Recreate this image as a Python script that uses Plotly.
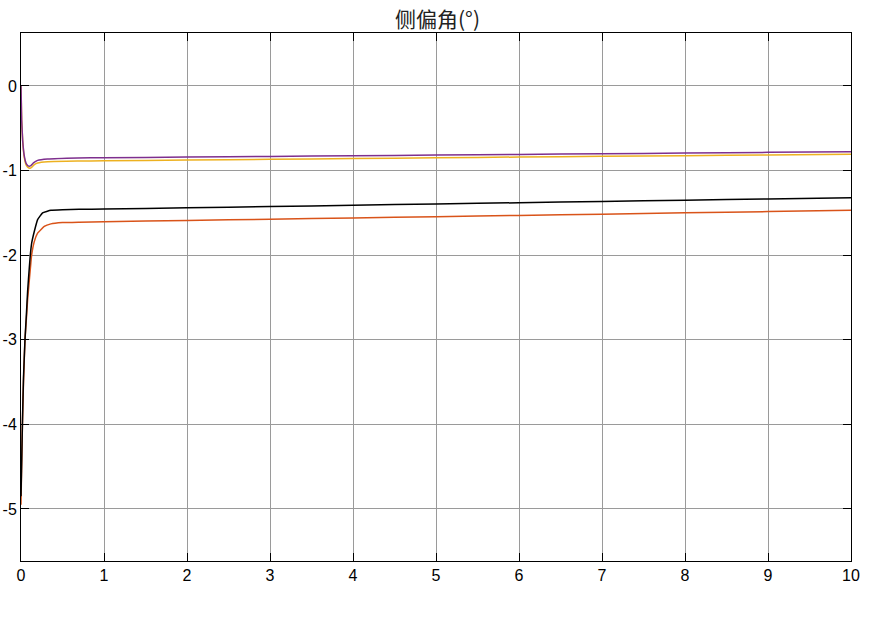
import plotly.graph_objects as go

# time samples (s) and series values (deg)
t_purple = [0, 0.004, 0.008, 0.02, 0.04, 0.06, 0.08, 0.1, 0.12, 0.15, 0.2, 0.32, 0.68, 1, 2, 3, 4, 5, 6, 7, 8, 9, 10]
purple = [0, -0.2, -0.4, -0.64, -0.83, -0.91, -0.94, -0.95, -0.94, -0.91, -0.88, -0.863, -0.851, -0.848,
          -0.841, -0.833, -0.825, -0.817, -0.809, -0.801, -0.793, -0.785, -0.777]

t_yellow = [0, 0.004, 0.008, 0.02, 0.04, 0.06, 0.08, 0.11, 0.13, 0.16, 0.2, 0.32, 0.68, 1, 2, 3, 4, 5, 6, 7, 8, 9, 10]
yellow = [0, -0.2, -0.4, -0.65, -0.85, -0.93, -0.96, -0.974, -0.96, -0.93, -0.91, -0.895, -0.887, -0.885,
          -0.876, -0.867, -0.858, -0.849, -0.840, -0.832, -0.824, -0.816, -0.808]

t_black = [0, 0.004, 0.008, 0.017, 0.03, 0.048, 0.065, 0.08, 0.1, 0.112, 0.13, 0.16, 0.2, 0.26, 0.36, 0.5, 0.7, 1,
           2, 3, 4, 5, 6, 7, 8, 9, 10]
black = [-4.85, -4.65, -4.45, -4.0, -3.45, -3.0, -2.7, -2.42, -2.15, -2.0, -1.85, -1.72, -1.58, -1.50, -1.47,
         -1.462, -1.458, -1.455, -1.44, -1.425, -1.41, -1.395, -1.38, -1.365, -1.35, -1.335, -1.32]

t_orange = [0, 0.004, 0.008, 0.017, 0.03, 0.048, 0.065, 0.08, 0.1, 0.128, 0.16, 0.2, 0.28, 0.36, 0.5, 0.7, 1,
            2, 3, 4, 5, 6, 7, 8, 9, 10]
orange = [-4.95, -4.7, -4.5, -4.0, -3.5, -3.0, -2.75, -2.52, -2.3, -2.0, -1.84, -1.74, -1.66, -1.63, -1.615,
          -1.61, -1.605, -1.59, -1.575, -1.56, -1.545, -1.53, -1.515, -1.5, -1.485, -1.47]

x_ticks = list(range(0, 11))
y_ticks = [0, -1, -2, -3, -4, -5]
y_tick_text = ["0", "-1", "-2", "-3", "-4", "-5"]

fig = go.Figure()
for tx, ys, col in [(t_orange, orange, "#D95319"), (t_black, black, "#000000"),
                    (t_yellow, yellow, "#EDB120"), (t_purple, purple, "#7E2F8E")]:
    fig.add_trace(go.Scatter(x=tx, y=ys, mode="lines", line=dict(color=col, width=1.5, shape="spline", smoothing=0.3),
                             showlegend=False, hoverinfo="skip"))

axis_common = dict(showgrid=True, gridcolor="#9a9a9a", gridwidth=1, showline=True, linecolor="black", linewidth=1,
                   mirror="ticks", ticks="inside", ticklen=8, tickcolor="black", tickwidth=1, zeroline=False,
                   automargin=False,
                   tickfont=dict(family="Liberation Sans, Arial", size=16, color="black"))
fig.update_xaxes(range=[0, 10], tickvals=x_ticks, **axis_common)
fig.update_yaxes(range=[-5.615, 0.626], tickvals=y_ticks, ticktext=y_tick_text, **axis_common)

fig.update_layout(
    width=875, height=619,
    margin=dict(l=21, r=24, t=33, b=58),
    paper_bgcolor="white", plot_bgcolor="white",
    title=dict(text="侧偏角(°)", x=0.5, xanchor="center", y=0.969, yanchor="middle", automargin=False,
               font=dict(family="Noto Sans CJK SC", size=21, color="#222222")),
)
fig.write_html("out.html", config={"displayModeBar": False}, post_script="document.body.style.margin='0';")
